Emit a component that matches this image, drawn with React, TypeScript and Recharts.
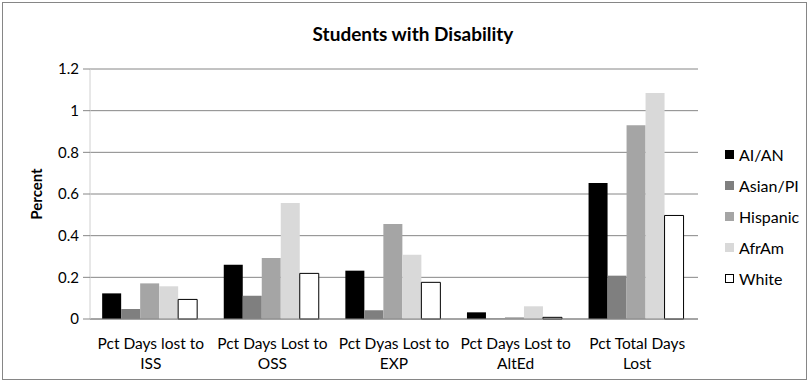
import { BarChart, Bar, XAxis, YAxis, CartesianGrid } from 'recharts';

const categories = [
  'Pct Days lost to ISS',
  'Pct Days Lost to OSS',
  'Pct Dyas Lost to EXP',
  'Pct Days Lost to AltEd',
  'Pct Total Days Lost',
];

const aian = [0.123, 0.26, 0.232, 0.032, 0.653];
const asianPi = [0.048, 0.112, 0.042, 0.002, 0.208];
const hispanic = [0.171, 0.293, 0.456, 0.008, 0.93];
const afrAm = [0.157, 0.557, 0.309, 0.061, 1.085];
const white = [0.094, 0.219, 0.176, 0.008, 0.497];

const yTicks = [0, 0.2, 0.4, 0.6, 0.8, 1, 1.2];

const series = [
  { key: 'AI/AN', values: aian, fill: '#000000', stroke: 'none' },
  { key: 'Asian/PI', values: asianPi, fill: '#7f7f7f', stroke: 'none' },
  { key: 'Hispanic', values: hispanic, fill: '#a5a5a5', stroke: 'none' },
  { key: 'AfrAm', values: afrAm, fill: '#d9d9d9', stroke: 'none' },
  { key: 'White', values: white, fill: '#ffffff', stroke: '#000000' },
];

const data = categories.map((name, i) => {
  const row: Record<string, string | number> = { name, pos: i + 0.5 };
  series.forEach((s) => {
    row[s.key] = s.values[i];
  });
  return row;
});

const FONT = 'Lato, "Open Sans", sans-serif';

// two-line category label: everything up to the last word, then the last word
function CategoryTick({ x, y, payload }: any) {
  const label: string = payload.value;
  const cut = label.lastIndexOf(' ');
  const lines = [label.slice(0, cut), label.slice(cut + 1)];
  return (
    <g transform={`translate(${x},${y})`}>
      {lines.map((line, i) => (
        <text
          key={i}
          x={0}
          y={22 + i * 20}
          textAnchor="middle"
          fontSize={15.5}
          fontFamily={FONT}
          fill="#000"
        >
          {line}
        </text>
      ))}
    </g>
  );
}

function LegendBox() {
  return (
    <div
      style={{
        position: 'absolute',
        left: 725,
        top: 139,
        fontFamily: FONT,
        fontSize: 16,
        color: '#000',
      }}
    >
      {series.map((s) => (
        <div key={s.key} style={{ display: 'flex', alignItems: 'center', height: 31 }}>
          <span
            style={{
              display: 'inline-block',
              width: 9,
              height: 9,
              background: s.fill,
              border: s.stroke === 'none' ? 'none' : `1px solid ${s.stroke}`,
              boxSizing: 'border-box',
              marginRight: 5,
            }}
          />
          {s.key}
        </div>
      ))}
    </div>
  );
}

export default function App() {
  return (
    <div style={{ position: 'absolute', left: 0, top: 0, width: 810, height: 382, background: '#fff' }}>
      <div
        style={{
          position: 'absolute',
          left: 2,
          top: 2,
          width: 803,
          height: 376,
          border: '1px solid #868686',
        }}
      />
      <div
        style={{
          position: 'absolute',
          top: 22,
          left: 8,
          width: 810,
          textAlign: 'center',
          fontFamily: FONT,
          fontWeight: 'bold',
          fontSize: 19,
          lineHeight: '23px',
        }}
      >
        Students with Disability
      </div>
      <BarChart
        width={810}
        height={382}
        data={data}
        margin={{ top: 69, right: 112, bottom: 0, left: 0 }}
        barCategoryGap="10%"
        barGap={0}
      >
        <CartesianGrid vertical={false} stroke="#868686" />
        <XAxis
          dataKey="name"
          xAxisId={0}
          height={63}
          tick={<CategoryTick />}
          tickLine={false}
          axisLine={{ stroke: '#868686' }}
          interval={0}
        />
        <XAxis
          xAxisId="bounds"
          dataKey="pos"
          type="number"
          domain={[0, 5]}
          ticks={[0, 1, 2, 3, 4, 5]}
          height={0}
          tick={false}
          tickSize={6}
          tickLine={{ stroke: '#868686' }}
          axisLine={false}
          orientation="bottom"
        />
        <YAxis
          width={90}
          domain={[0, 1.2]}
          ticks={yTicks}
          interval={0}
          tickFormatter={(v: number) => String(Number(v.toFixed(1)))}
          tick={{ fontSize: 15, fontFamily: FONT, fill: '#000' }}
          tickSize={7}
          tickMargin={4}
          tickLine={{ stroke: '#868686' }}
          axisLine={{ stroke: '#d0d0d0' }}
          label={{
            value: 'Percent',
            angle: -90,
            position: 'insideLeft',
            offset: 37,
            style: { fontSize: 15, fontFamily: FONT, fontWeight: 'bold', fill: '#000', textAnchor: 'middle' },
          }}
        />
        {series.map((s) => (
          <Bar
            key={s.key}
            dataKey={s.key}
            xAxisId={0}
            fill={s.fill}
            stroke={s.stroke}
            strokeWidth={s.stroke === 'none' ? 0 : 1}
            isAnimationActive={false}
          />
        ))}
      </BarChart>
      <LegendBox />
    </div>
  );
}
